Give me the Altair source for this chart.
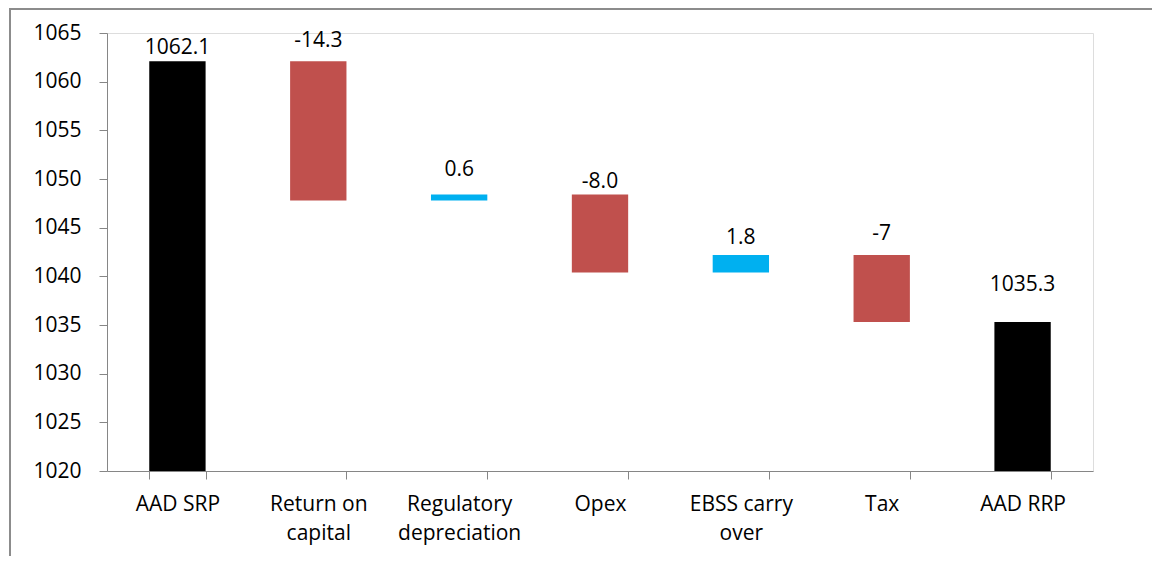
import altair as alt
import pandas as pd

categories = ["AAD SRP", "Return on capital", "Regulatory depreciation", "Opex",
              "EBSS carry over", "Tax", "AAD RRP"]
values = [1062.1, -14.3, 0.6, -8.0, 1.8, -6.9, 1035.3]
kinds = ["total", "delta", "delta", "delta", "delta", "delta", "total"]
value_labels = ["1062.1", "-14.3", "0.6", "-8.0", "1.8", "-7", "1035.3"]
y_ticks = [1020, 1025, 1030, 1035, 1040, 1045, 1050, 1055, 1060, 1065]
line_breaks = {
    "Return on capital": ["Return on", "capital"],
    "Regulatory depreciation": ["Regulatory", "depreciation"],
    "EBSS carry over": ["EBSS carry", "over"],
}

Y_MIN, Y_MAX = y_ticks[0], y_ticks[-1]

rows = []
running = 0.0
for c, v, k, lab in zip(categories, values, kinds, value_labels):
    if k == "total":
        start, end = Y_MIN, v
        running = v
        kind = "total"
    else:
        start, end = running, running + v
        running = end
        kind = "increase" if v >= 0 else "decrease"
    rows.append({"category": c, "start": start, "end": end,
                 "top": max(start, end), "kind": kind, "label": lab})
df = pd.DataFrame(rows)

# label offsets (style)
label_dy = {"AAD SRP": -13, "Return on capital": -20, "Regulatory depreciation": -25,
            "Opex": -13, "EBSS carry over": -17, "Tax": -21, "AAD RRP": -37}

FONT = "Open Sans"
FS = 21
AX = "#868686"

expr = "datum.label"
for k, v in reversed(list(line_breaks.items())):
    arr = "[" + ",".join("'" + s + "'" for s in v) + "]"
    expr = f"datum.value == '{k}' ? {arr} : ({expr})"

x = alt.X("category:N", sort=categories,
          scale=alt.Scale(paddingInner=0.6, paddingOuter=0.3),
          axis=alt.Axis(title=None, labelAngle=0, tickBand="extent",
                        domainColor=AX, tickColor=AX, tickSize=8,
                        labelFont=FONT, labelFontSize=FS, labelColor="#000000",
                        labelLineHeight=29, labelPadding=14, labelExpr=expr))
y = alt.Y("start:Q", scale=alt.Scale(domain=[Y_MIN, Y_MAX], nice=False, zero=False),
          axis=alt.Axis(title=None, values=y_ticks, grid=False, format="d",
                        domainColor=AX, tickColor=AX, tickSize=8,
                        labelFont=FONT, labelFontSize=FS, labelColor="#000000",
                        labelPadding=18))

bars = alt.Chart(df).mark_bar().encode(
    x=x, y=y, y2="end:Q",
    color=alt.Color("kind:N", scale=alt.Scale(domain=["total", "decrease", "increase"],
                                              range=["#000000", "#C0504D", "#00B0F0"]),
                    legend=None),
)

texts = []
for c in categories:
    texts.append(
        alt.Chart(df).transform_filter(alt.datum.category == c)
        .mark_text(font=FONT, fontSize=FS, color="#000000", baseline="middle", dy=label_dy[c])
        .encode(x=alt.X("category:N", sort=categories), y=alt.Y("top:Q"), text="label:N")
    )

frame_left = alt.Chart(df).mark_rule(color="#8c8c8c", strokeWidth=2).encode(
    x=alt.value(-97), y=alt.value(-25), y2=alt.value(700))
frame_top = alt.Chart(df).mark_rule(color="#8c8c8c", strokeWidth=2).encode(
    x=alt.value(-97), x2=alt.value(1200), y=alt.value(-24.5))

chart = alt.layer(bars, *texts, frame_left, frame_top).properties(
    width=986, height=438,
    autosize=alt.AutoSizeParams(type="none"),
    padding={"left": 99, "top": 25, "right": 59, "bottom": 85},
).configure_view(stroke=None).configure(background="white")

chart.save("out.html", embed_options={"renderer": "svg", "actions": False})
